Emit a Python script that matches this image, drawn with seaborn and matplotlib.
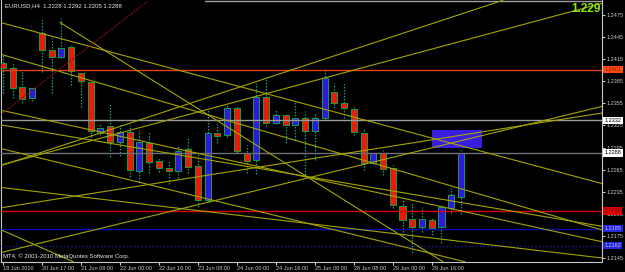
import numpy as np
import pandas as pd
import matplotlib
matplotlib.use("Agg")
import matplotlib.pyplot as plt
import matplotlib.transforms as mtransforms
from matplotlib.patches import Rectangle
import seaborn as sns

# ---------------- data ----------------
symbol = "EURUSD,H4"
opens = [1.2410, 1.2403, 1.2377, 1.2362, 1.2451, 1.2428, 1.2418, 1.2432, 1.2396, 1.2384,
         1.2315, 1.2324, 1.2302, 1.2316, 1.2263, 1.2301, 1.2277, 1.2267, 1.2263, 1.2293,
         1.2270, 1.2224, 1.2315, 1.2312, 1.2349, 1.2288, 1.2278, 1.2364, 1.2328, 1.2339,
         1.2326, 1.2335, 1.2317, 1.2335, 1.2370, 1.2355, 1.2347, 1.2315, 1.2274, 1.2288,
         1.2267, 1.2216, 1.2198, 1.2187, 1.2197, 1.2187, 1.2213, 1.2228]
highs = [1.2421, 1.2411, 1.2400, 1.2376, 1.2471, 1.2444, 1.2471, 1.2434, 1.2399, 1.2387,
         1.2328, 1.2354, 1.2326, 1.2326, 1.2319, 1.2316, 1.2281, 1.2278, 1.2298, 1.2308,
         1.2288, 1.2346, 1.2327, 1.2353, 1.2351, 1.2298, 1.2383, 1.2391, 1.2347, 1.2342,
         1.2357, 1.2345, 1.2342, 1.2400, 1.2383, 1.2384, 1.2350, 1.2320, 1.2288, 1.2292,
         1.2271, 1.2224, 1.2220, 1.2214, 1.2199, 1.2217, 1.2240, 1.2292]
lows = [1.2369, 1.2362, 1.2356, 1.2358, 1.2398, 1.2369, 1.2417, 1.2380, 1.2350, 1.2305,
        1.2312, 1.2282, 1.2283, 1.2255, 1.2248, 1.2260, 1.2262, 1.2245, 1.2254, 1.2260,
        1.2214, 1.2221, 1.2301, 1.2309, 1.2288, 1.2260, 1.2259, 1.2324, 1.2327, 1.2301,
        1.2305, 1.2258, 1.2278, 1.2334, 1.2349, 1.2331, 1.2312, 1.2264, 1.2273, 1.2258,
        1.2213, 1.2176, 1.2152, 1.2180, 1.2176, 1.2165, 1.2206, 1.2205]
closes = [1.2403, 1.2376, 1.2361, 1.2376, 1.2428, 1.2418, 1.2430, 1.2399, 1.2385, 1.2317,
          1.2322, 1.2302, 1.2316, 1.2264, 1.2302, 1.2275, 1.2267, 1.2263, 1.2290, 1.2269,
          1.2224, 1.2315, 1.2311, 1.2349, 1.2290, 1.2277, 1.2364, 1.2328, 1.2339, 1.2326,
          1.2335, 1.2317, 1.2335, 1.2389, 1.2355, 1.2349, 1.2316, 1.2274, 1.2288, 1.2266,
          1.2217, 1.2197, 1.2187, 1.2198, 1.2186, 1.2214, 1.2231, 1.2288]

time_labels = ["18 Jun 2010", "20 Jun 17:00", "21 Jun 08:00", "22 Jun 00:00",
               "22 Jun 16:00", "23 Jun 08:00", "24 Jun 00:00", "24 Jun 16:00",
               "25 Jun 08:00", "28 Jun 08:00", "29 Jun 00:00", "29 Jun 16:00"]
time_label_bars = [0, 4, 8, 12, 16, 20, 24, 28, 32, 36, 40, 44]

price_ticks = [1.2475, 1.2445, 1.2415, 1.2385, 1.2355, 1.2325, 1.2295,
               1.2265, 1.2235, 1.2205, 1.2175, 1.2145]

# trend lines (bar index, price) anchors
tl_x0 = [-0.3, 5.85, -0.3, -0.3, -0.3, -0.3, -0.3, -0.3, -0.3, -0.3, -0.3, -0.3]
tl_p0 = [1.2465, 1.2465, 1.2422, 1.2270, 1.2271, 1.2152, 1.2213, 1.2346, 1.2241, 1.2326, 1.2294, 1.2184]
tl_x1 = [61.5, 45.15, 61.5, 51.3, 61.5, 61.5, 61.5, 61.5, 61.5, 61.5, 47.4, 7.2]
tl_p1 = [1.2246, 1.2140, 1.2183, 1.2495, 1.2491, 1.2351, 1.2342, 1.2167, 1.2145, 1.2188, 1.2140, 1.2140]

red_tl_x = [-0.3, 14.8]
red_tl_p = [1.2339, 1.2493]

top_line_x = [20.7, 61.5]
top_line_p = [1.2494, 1.2494]

level_prices = [1.2401, 1.2332, 1.2288, 1.2209, 1.2185, 1.2162]
level_colors = ["#e2400c", "#9a9a9a", "#6e7078", "#d80000", "#0a0ab4", "#1c1ca0"]
level_styles = ["-", "-", "-", "-", "-", ":"]
level_bg = ["#ff4a10", "#ffffff", "#ffffff", "#e00000", "#2626d8", "#2626d8"]
level_fg = ["#8a1a00", "#000000", "#000000", "#7a0000", "#b8b8ff", "#b8b8ff"]

box_bars = [44.0, 49.2]
box_prices = [1.2294, 1.2319]

# ---------------- style ----------------
sns.set_theme(style="dark", rc={"axes.facecolor": "black", "figure.facecolor": "black"})
plt.rcParams["font.family"] = ["Liberation Sans", "DejaVu Sans"]

fig = plt.figure(figsize=(6.25, 2.72), dpi=100)
ax = fig.add_axes([1 / 625, 10 / 272, 601 / 625, 262 / 272])
ax.set_facecolor("black")
ax.grid(False)

# rectangle (background object)
ax.add_patch(Rectangle((box_bars[0], box_prices[0]), box_bars[1] - box_bars[0],
                       box_prices[1] - box_prices[0], facecolor="#3a1ee0",
                       edgecolor="none", zorder=1))

# candles
df = pd.DataFrame({"o": opens, "h": highs, "l": lows, "c": closes})
df["i"] = np.arange(len(df))
up = df["c"] >= df["o"]
body_low = np.minimum(df["o"], df["c"])
body_h = np.maximum(np.abs(df["c"] - df["o"]), 0.00009)
ax.vlines(df["i"], df["l"], df["h"], colors="#1c9c78", linewidth=0.9,
          linestyles=(0, (1.2, 1.2)), zorder=2)
ax.bar(df["i"], body_h, bottom=body_low, width=0.62,
       color=np.where(up, "#3018e0", "#f01808"), edgecolor="#12a040",
       linewidth=0.7, zorder=3)

# horizontal levels
for p, col, ls in zip(level_prices, level_colors, level_styles):
    ax.axhline(p, color=col, linestyle=ls, linewidth=1.0, zorder=4)
ax.plot(top_line_x, top_line_p, color="#a0a0a0", linewidth=1.0, zorder=4)

# trend lines through seaborn
rows = []
for k, (x0, p0, x1, p1) in enumerate(zip(tl_x0, tl_p0, tl_x1, tl_p1)):
    rows.append({"line": k, "bar": x0, "price": p0})
    rows.append({"line": k, "bar": x1, "price": p1})
tl_df = pd.DataFrame(rows)
sns.lineplot(data=tl_df, x="bar", y="price", units="line", estimator=None,
             color="#a4a400", linewidth=0.8, legend=False, ax=ax, zorder=5)
ax.plot(red_tl_x, red_tl_p, color="#8a1010", linewidth=0.9,
        linestyle=(0, (1.5, 1)), zorder=5)

# axes limits
ax.set_xlim(-0.2, 61.47)
ax.set_ylim(1.21396, 1.24954)
ax.set_xlabel("")
ax.set_ylabel("")

# ticks
ax.yaxis.tick_right()
ax.set_yticks(price_ticks)
ax.set_yticklabels([f"{v:.4f}" for v in price_ticks])
ax.set_xticks(time_label_bars)
ax.set_xticklabels(time_labels, ha="left")
ax.tick_params(axis="both", colors="#c8c8c8", labelsize=4.0, length=2, width=0.8,
               direction="out", pad=1.0)
ax.tick_params(axis="y", right=True, left=False, labelright=True, labelleft=False)
ax.tick_params(axis="x", bottom=True)
for s in ["left", "bottom", "right"]:
    ax.spines[s].set_color("#c8c8c8")
    ax.spines[s].set_linewidth(0.8)
    ax.spines[s].set_visible(True)
ax.spines["top"].set_visible(False)

# level price labels on right axis
trans = mtransforms.blended_transform_factory(ax.transAxes, ax.transData)
for p, bg, fg in zip(level_prices, level_bg, level_fg):
    ax.text(1.004, p, f"{p:.4f}", transform=trans, ha="left", va="center",
            fontsize=4.0, color=fg, clip_on=False, zorder=10,
            bbox=dict(facecolor=bg, edgecolor="none", pad=0.9))

# header and annotations
ax.text(0.006, 0.988, f"{symbol}  {opens[-1]:.4f} {highs[-1]:.4f} {lows[-1]:.4f} {closes[-1]:.4f}",
        transform=ax.transAxes, ha="left", va="top", fontsize=4.3, color="#e8e8e8", zorder=10)
ax.text(0.998, 0.988, f"{closes[-1]:.3f}", transform=ax.transAxes, ha="right", va="top",
        fontsize=8.5, fontweight="bold", color="#88ee00", zorder=10)
ax.text(0.004, 0.012, "MT4, \u00a9 2001-2010 MetaQuotes Software Corp.",
        transform=ax.transAxes, ha="left", va="bottom", fontsize=4.3, color="#e8e8e8", zorder=10)

fig.savefig("out.png", dpi=100, facecolor="black")
